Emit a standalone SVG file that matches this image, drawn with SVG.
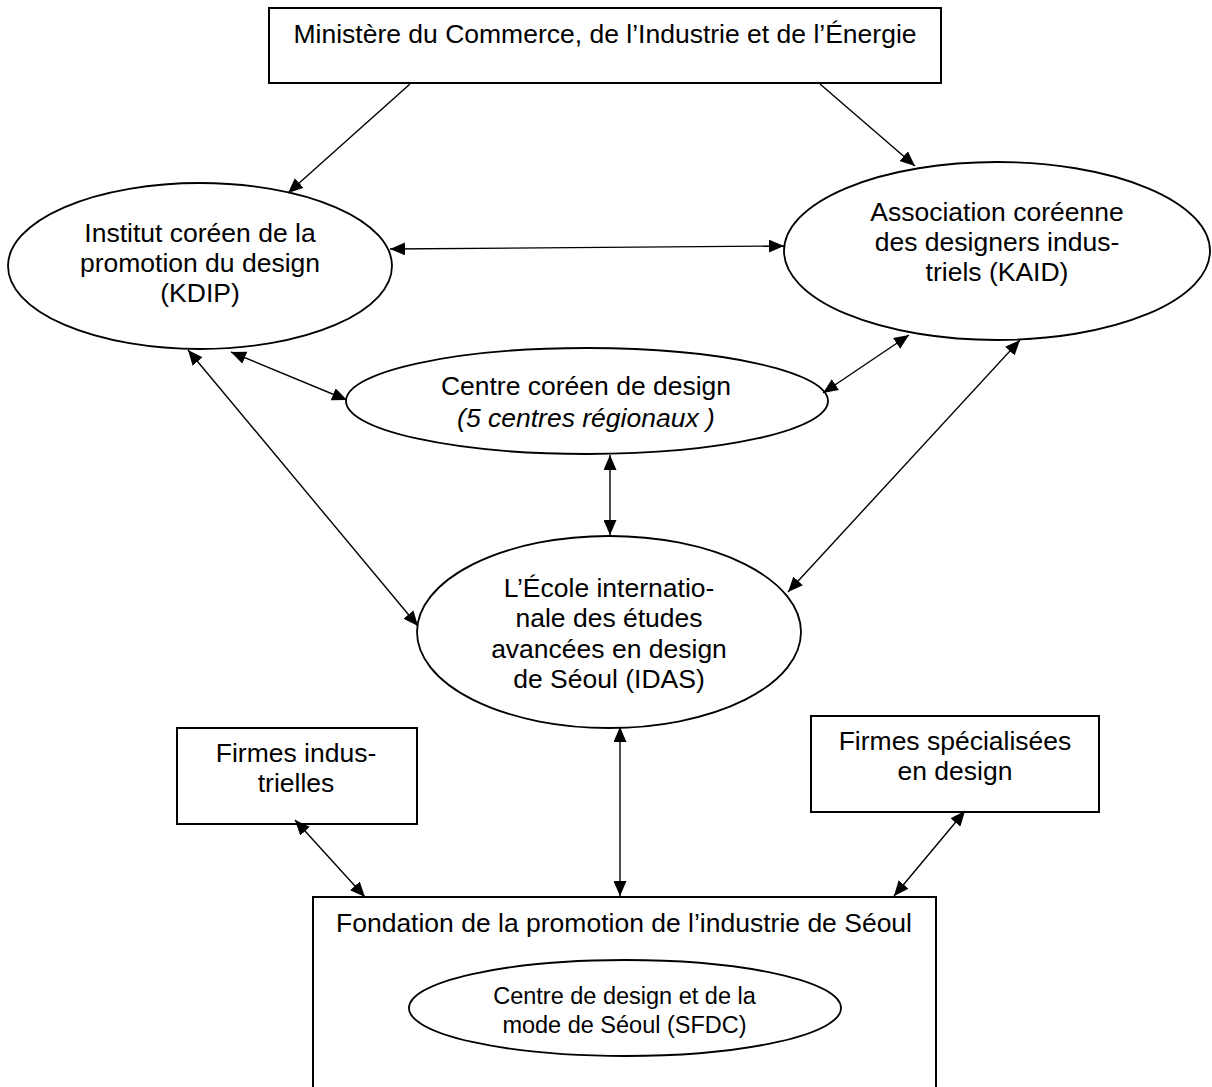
<svg xmlns="http://www.w3.org/2000/svg" width="1212" height="1087" viewBox="0 0 1212 1087">
  <defs>
    <marker id="arr" viewBox="0 0 15 13" refX="15" refY="6.5" markerWidth="15" markerHeight="13" markerUnits="userSpaceOnUse" orient="auto-start-reverse">
      <path d="M0,0 L15,6.5 L0,13 z" fill="#000"/>
    </marker>
    <style>
      .box { fill: #fff; stroke: #000; stroke-width: 2; }
      .ell { fill: #fff; stroke: #000; stroke-width: 1.8; }
      .lbl { font-family: "Liberation Sans", Arial, sans-serif; font-size: 26.5px; fill: #000; text-anchor: middle; }
      .small { font-size: 23.5px; }
      .it { font-style: italic; }
      .con { stroke: #000; stroke-width: 1.4; fill: none; }
      .one { marker-end: url(#arr); }
      .two { marker-start: url(#arr); marker-end: url(#arr); }
    </style>
  </defs>
  <rect width="1212" height="1087" fill="#fff"/>

  <g id="ministere">
    <rect class="box" x="269" y="8" width="672" height="75"/>
    <text class="lbl" x="605" y="43">Ministère du Commerce, de l’Industrie et de l’Énergie</text>
  </g>

  <g id="kdip">
    <ellipse class="ell" cx="200" cy="266" rx="192" ry="83"/>
    <text class="lbl" x="200" y="242">Institut coréen de la</text>
    <text class="lbl" x="200" y="272">promotion du design</text>
    <text class="lbl" x="200" y="302">(KDIP)</text>
  </g>

  <g id="kaid">
    <ellipse class="ell" cx="997" cy="251" rx="213" ry="89"/>
    <text class="lbl" x="997" y="221">Association coréenne</text>
    <text class="lbl" x="997" y="251">des designers indus-</text>
    <text class="lbl" x="997" y="281">triels (KAID)</text>
  </g>

  <g id="centre">
    <ellipse class="ell" cx="587" cy="401" rx="241" ry="53"/>
    <text class="lbl" x="586" y="395">Centre coréen de design</text>
    <text class="lbl it" x="586" y="427">(5 centres régionaux )</text>
  </g>

  <g id="idas">
    <ellipse class="ell" cx="609" cy="632" rx="192" ry="96"/>
    <text class="lbl" x="609" y="597">L’École internatio-</text>
    <text class="lbl" x="609" y="627">nale des études</text>
    <text class="lbl" x="609" y="658">avancées en design</text>
    <text class="lbl" x="609" y="688">de Séoul (IDAS)</text>
  </g>

  <g id="firmes-industrielles">
    <rect class="box" x="177" y="728" width="240" height="96"/>
    <text class="lbl" x="296" y="762">Firmes indus-</text>
    <text class="lbl" x="296" y="792">trielles</text>
  </g>

  <g id="firmes-design">
    <rect class="box" x="811" y="716" width="288" height="96"/>
    <text class="lbl" x="955" y="750">Firmes spécialisées</text>
    <text class="lbl" x="955" y="780">en design</text>
  </g>

  <g id="fondation">
    <path class="box" d="M313,1095 V897 H936 V1095"/>
    <text class="lbl" x="624" y="932">Fondation de la promotion de l’industrie de Séoul</text>
  </g>

  <g id="sfdc">
    <ellipse class="ell" cx="625" cy="1008" rx="216" ry="48"/>
    <text class="lbl small" x="624.5" y="1004">Centre de design et de la</text>
    <text class="lbl small" x="624.5" y="1033">mode de Séoul (SFDC)</text>
  </g>

  <g id="connectors">
    <line class="con one" x1="410" y1="84" x2="288" y2="193"/>
    <line class="con one" x1="820" y1="84" x2="915" y2="166"/>
    <line class="con two" x1="390" y1="249" x2="784" y2="246"/>
    <line class="con two" x1="231" y1="352" x2="347" y2="400"/>
    <line class="con two" x1="188" y1="350" x2="418" y2="626"/>
    <line class="con two" x1="909" y1="335" x2="823" y2="393"/>
    <line class="con two" x1="1020" y1="340" x2="788" y2="592"/>
    <line class="con two" x1="610" y1="455" x2="610" y2="535"/>
    <line class="con two" x1="295" y1="820" x2="365" y2="897"/>
    <line class="con two" x1="620" y1="727" x2="620" y2="896"/>
    <line class="con two" x1="965" y1="811" x2="894" y2="896"/>
  </g>
</svg>
